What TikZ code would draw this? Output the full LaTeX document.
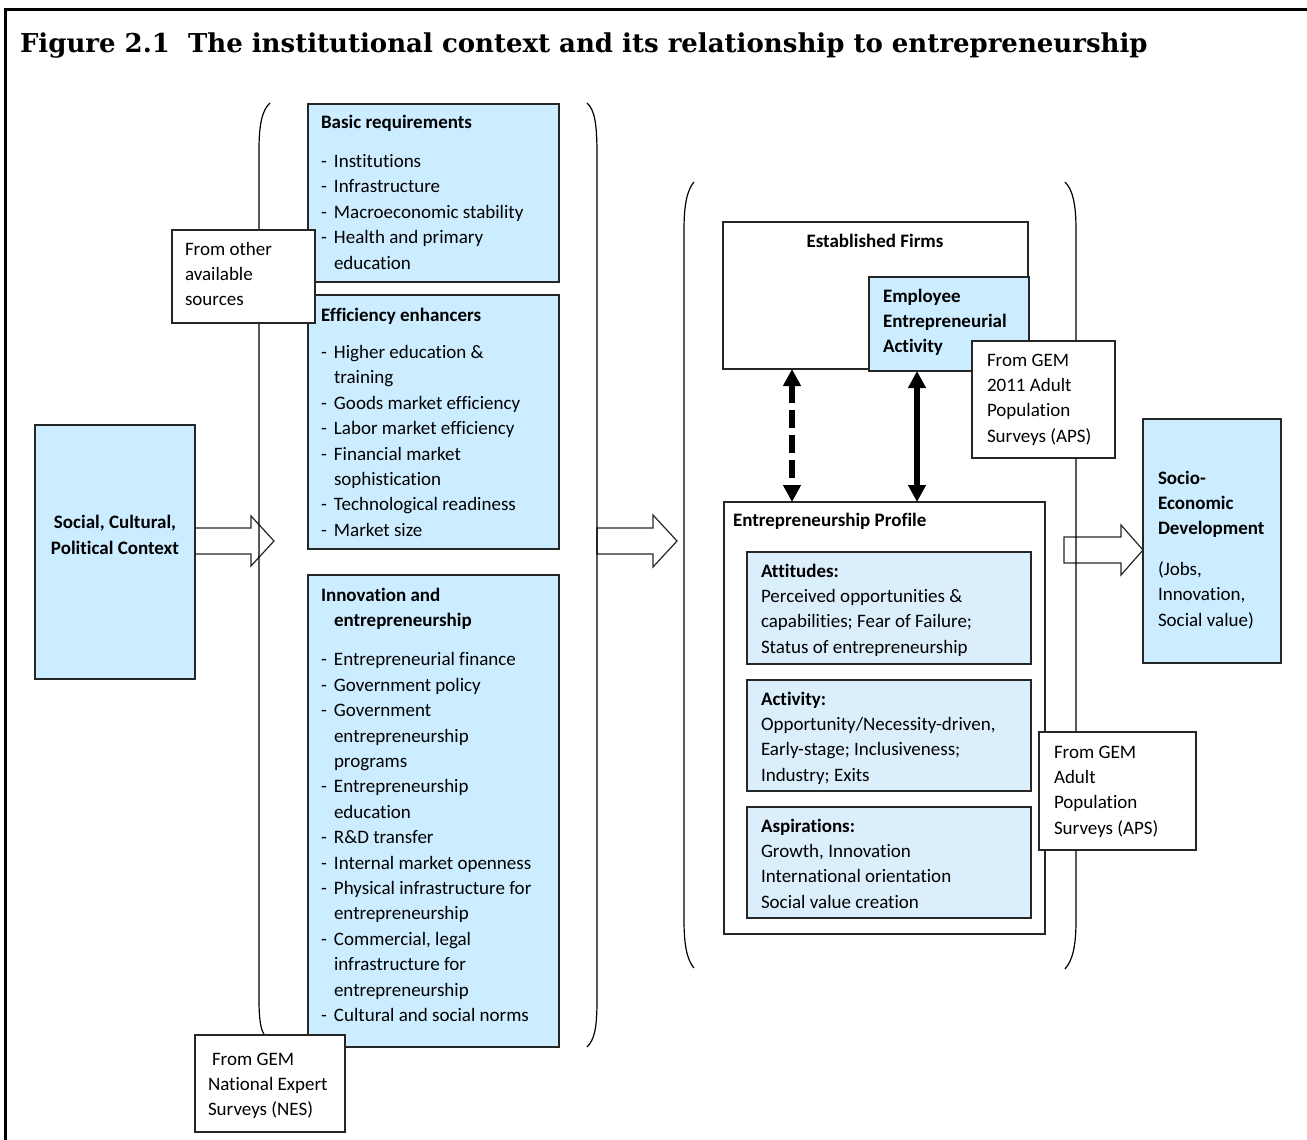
\documentclass[tikz,border=0pt]{standalone}
\usepackage{fontspec}
\setmainfont{Carlito}[Ligatures=NoCommon]
\newfontfamily\headfont{DejaVu Serif}
\usetikzlibrary{arrows.meta,fit}

\definecolor{boxblue}{RGB}{204,236,255}
\definecolor{paleblue}{RGB}{219,238,252}
\newcommand{\topstrut}{\rule{0pt}{7pt}}
\newcommand{\dsh}{\makebox[6.5pt][l]{-}}
\newcommand{\indt}{\hspace*{6.5pt}}

\begin{document}
\begin{tikzpicture}[x=0.5pt,y=-0.5pt,
      every node/.style={inner sep=0pt,outer sep=0pt},
      panel/.style={draw=black!85,line width=0.6pt,fit={#1}},
      blue panel/.style={panel={#1},fill=boxblue},
      pale panel/.style={panel={#1},fill=paleblue},
      white panel/.style={panel={#1},fill=white},
      txt/.style={anchor=north west,align=left,font=\fontsize{9.5}{12.7}\selectfont},
      blockarrow/.style={draw=black!85,line width=0.6pt},
      bracket/.style={line width=0.6pt},
      link/.style={line width=2.8pt,{Triangle[width=8.5pt,length=8.5pt]}-{Triangle[width=8.5pt,length=8.5pt]}}]
    \useasboundingbox (0,0) rectangle (1307,1140);
    \draw[line width=1.5pt] (5,1140) -- (5,9) -- (1307,9);
    \node[anchor=base west,font=\headfont\bfseries\fontsize{13}{15}\selectfont] (title) at (20,52)
        {Figure 2.1\ \ The institutional context and its relationship to entrepreneurship};

    \node[blue panel={(35,425) (195,679)}] (social) {};
    \node[txt,anchor=center,align=center] (socialt) at (115,535) {\textbf{Social, Cultural,}\\\textbf{Political Context}};

    \node[blue panel={(308,104) (559,282)}] (basic) {};
    \node[txt] (basict) at (321,114) {\topstrut\textbf{Basic requirements}\\[7pt]
        \dsh Institutions\\
        \dsh Infrastructure\\
        \dsh Macroeconomic stability\\
        \dsh Health and primary\\
        \indt education};

    \node[blue panel={(308,295) (559,549)}] (effic) {};
    \node[txt] (effict) at (321,307) {\topstrut\textbf{Efficiency enhancers}\\[6pt]
        \dsh Higher education \&\\
        \indt training\\
        \dsh Goods market efficiency\\
        \dsh Labor market efficiency\\
        \dsh Financial market\\
        \indt sophistication\\
        \dsh Technological readiness\\
        \dsh Market size};

    \node[blue panel={(308,575) (559,1047)}] (innov) {};
    \node[txt] (innovt) at (321,587) {\topstrut\textbf{Innovation and}\\
        \indt\textbf{entrepreneurship}\\[7pt]
        \dsh Entrepreneurial finance\\
        \dsh Government policy\\
        \dsh Government\\
        \indt entrepreneurship\\
        \indt programs\\
        \dsh Entrepreneurship\\
        \indt education\\
        \dsh R\&D transfer\\
        \dsh Internal market openness\\
        \dsh Physical infrastructure for\\
        \indt entrepreneurship\\
        \dsh Commercial, legal\\
        \indt infrastructure for\\
        \indt entrepreneurship\\
        \dsh Cultural and social norms};

    \node[white panel={(723,222) (1028,369)}] (firms) {};
    \node[txt,anchor=center] (firmst) at (875,241) {\textbf{Established Firms}};
    \node[blue panel={(869,277) (1029,371)}] (employee) {};
    \node[txt] (employeet) at (883,288) {\topstrut\textbf{Employee}\\\textbf{Entrepreneurial}\\\textbf{Activity}};

    \node[white panel={(724,502) (1045,934)}] (profile) {};
    \node[txt] (profilet) at (733,512) {\topstrut\textbf{Entrepreneurship Profile}};
    \node[pale panel={(747,552) (1031,664)}] (attit) {};
    \node[txt] (attitt) at (761,563) {\topstrut\textbf{Attitudes:}\\
        Perceived opportunities \&\\
        capabilities; Fear of Failure;\\
        Status of entrepreneurship};
    \node[pale panel={(747,680) (1031,791)}] (activ) {};
    \node[txt] (activt) at (761,691) {\topstrut\textbf{Activity:}\\
        Opportunity/Necessity-driven,\\
        Early-stage; Inclusiveness;\\
        Industry; Exits};
    \node[pale panel={(747,807) (1031,918)}] (aspir) {};
    \node[txt] (aspirt) at (761,818) {\topstrut\textbf{Aspirations:}\\
        Growth, Innovation\\
        International orientation\\
        Social value creation};

    \node[blue panel={(1143,419) (1281,663)}] (socio) {};
    \node[txt] (sociot) at (1158,470) {\topstrut\textbf{Socio-}\\\textbf{Economic}\\\textbf{Development}\\[7.5pt]
        (Jobs,\\Innovation,\\Social value)};

    \coordinate (tipL) at (274,541);
    \coordinate (tipM) at (677,541);
    \coordinate (tipR) at (1143,550);
    \draw[blockarrow] (social.east |- tipL) ++(0,-13) -- ++(56,0) -- ++(0,-12) -- (tipL)
        -- ++(-23,25) -- ++(0,-12) -- ++(-56,0) -- cycle;
    \draw[blockarrow] (tipM) ++(-80,-13) -- ++(56,0) -- ++(0,-13) -- (tipM)
        -- ++(-24,26) -- ++(0,-13) -- ++(-56,0) -- cycle;
    \draw[blockarrow] (tipR) ++(-79,-13) -- ++(57,0) -- ++(0,-12) -- (tipR)
        -- ++(-22,25) -- ++(0,-12) -- ++(-57,0) -- cycle;

    \coordinate (dashx) at (792,0);
    \coordinate (solx) at (917,0);
    \draw[link,dash pattern=on 9pt off 3.5pt] (firms.south -| dashx) -- (profile.north -| dashx);
    \draw[link] (employee.south -| solx) -- (profile.north -| solx);

    \draw[bracket] (270,103) .. controls (262,110) and (259,125) .. (259,150) -- (259,1000)
        .. controls (259,1020) and (261,1030) .. (264,1034);
    \draw[bracket] (587,103) .. controls (595,110) and (597,125) .. (597,155) -- (597,1000)
        .. controls (597,1030) and (594,1040) .. (587,1047);
    \draw[bracket] (694,182) .. controls (687,190) and (684,205) .. (684,230) -- (684,920)
        .. controls (684,945) and (687,960) .. (694,968);
    \draw[bracket] (1065,182) .. controls (1073,190) and (1076,205) .. (1076,230) -- (1076,920)
        .. controls (1076,945) and (1073,960) .. (1065,969);

    \node[white panel={(172,230) (315,323)}] (other) {};
    \node[txt] (othert) at (185,241) {\topstrut From other\\available\\sources};
    \node[white panel={(195,1035) (345,1132)}] (nes) {};
    \node[txt] (nest) at (208,1051) {\topstrut\hspace{2pt}From GEM\\National Expert\\Surveys (NES)};
    \node[white panel={(972,341) (1115,458)}] (apsa) {};
    \node[txt] (apsat) at (987,352) {\topstrut From GEM\\2011 Adult\\Population\\Surveys (APS)};
    \node[white panel={(1039,732) (1196,850)}] (apsb) {};
    \node[txt] (apsbt) at (1054,744) {\topstrut From GEM\\Adult\\Population\\Surveys (APS)};
\end{tikzpicture}
\end{document}
